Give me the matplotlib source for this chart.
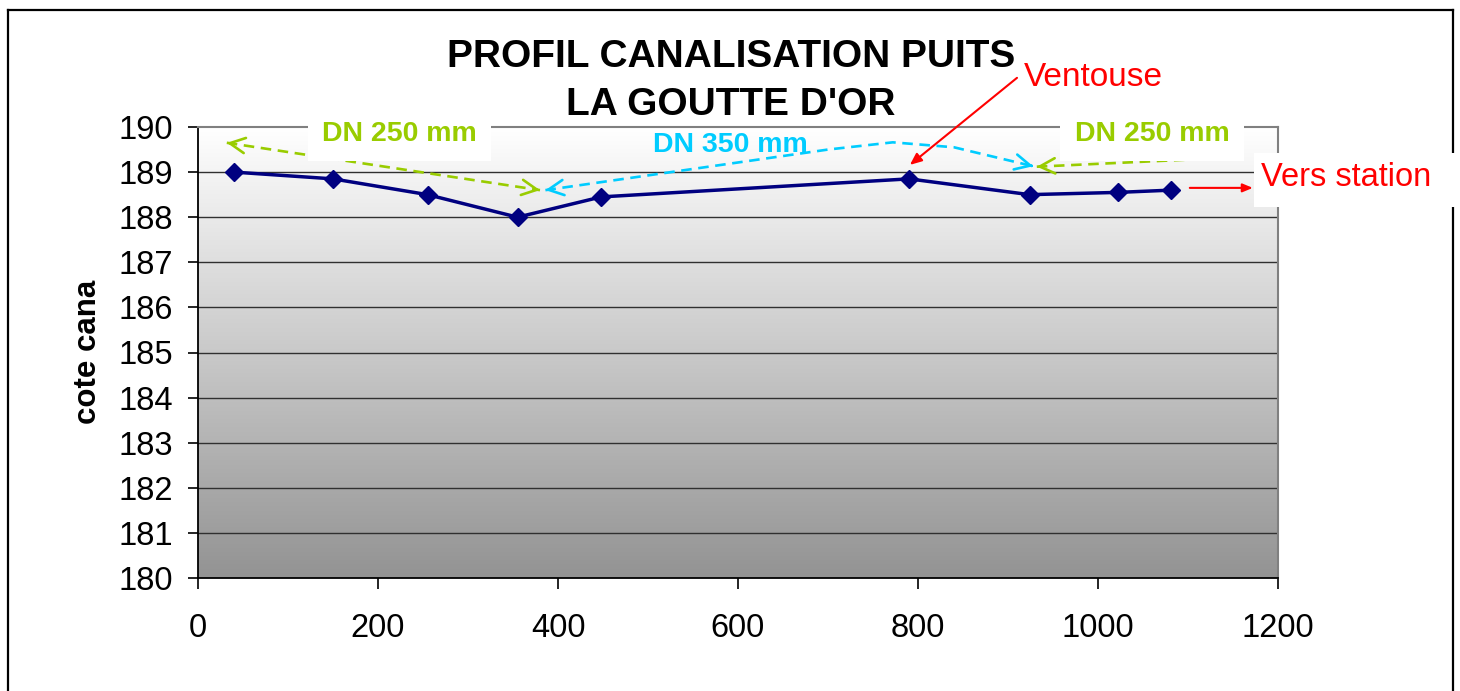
import numpy as np
import matplotlib
matplotlib.use('Agg')
import matplotlib.pyplot as plt
from matplotlib.colors import LinearSegmentedColormap
from matplotlib.patches import Rectangle
from matplotlib.lines import Line2D

plt.rcParams['font.family'] = ['Liberation Sans', 'DejaVu Sans']

# Données du profil
distance = [40, 150, 255, 355, 448, 790, 924, 1022, 1081]
cote = [189.0, 188.85, 188.5, 188.0, 188.45, 188.85, 188.5, 188.55, 188.6]
x_ticks = [0, 200, 400, 600, 800, 1000, 1200]
y_ticks = [180, 181, 182, 183, 184, 185, 186, 187, 188, 189, 190]

VERT = '#99CC00'
CYAN = '#00CCFF'
ROUGE = '#FF0000'

W, H = 1460, 691
fig = plt.figure(figsize=(W / 100, H / 100), dpi=100)
ax = fig.add_axes([198 / W, 1 - 578 / H, 1080 / W, 451 / H])

# fond dégradé (blanc en haut, gris en bas)
cmap = LinearSegmentedColormap.from_list('fond', ['#FFFFFF', '#939393'])
grad = np.linspace(0, 1, 256).reshape(-1, 1)
ax.imshow(grad, extent=[0, 1200, 180, 190], origin='upper', cmap=cmap,
          aspect='auto', zorder=0)
ax.set_xlim(0, 1200)
ax.set_ylim(180, 190)

for v in y_ticks[1:-1]:
    ax.axhline(v, color='#303030', lw=1.0, zorder=1)

ax.plot(distance, cote, color='#000080', lw=2.5, marker='D', ms=9, zorder=4)

ax.set_xticks(x_ticks)
ax.set_yticks(y_ticks)
ax.tick_params(axis='both', labelsize=23.5, direction='out', width=1.2)
ax.tick_params(axis='x', length=8, pad=17)
ax.tick_params(axis='y', length=7, pad=11)
for s in ['left', 'bottom']:
    ax.spines[s].set_color('black')
    ax.spines[s].set_linewidth(1.3)
for s in ['top', 'right']:
    ax.spines[s].set_color('#808080')
    ax.spines[s].set_linewidth(1.5)


def tete(x0, y0, x1, y1, couleur):
    # pointe de flèche ouverte en (x1, y1), venant de (x0, y0)
    xb = x1 - (x1 - x0) * 0.02
    yb = y1 - (y1 - y0) * 0.02
    ax.annotate('', xy=(x1, y1), xytext=(xb, yb), annotation_clip=False,
                arrowprops=dict(arrowstyle='->,head_length=1.1,head_width=0.55',
                                color=couleur, lw=1.9, shrinkA=0, shrinkB=0))


tirets = (0, (4, 2.5))

# DN 250 gauche
g1x, g1y = [32, 380], [189.65, 188.6]
ax.plot(g1x, g1y, color=VERT, lw=1.9, ls=tirets, zorder=3)
tete(g1x[1], g1y[1], g1x[0], g1y[0], VERT)
tete(g1x[0], g1y[0], g1x[1], g1y[1], VERT)

# DN 350
cx, cy = [386, 700, 772, 840, 928], [188.6, 189.5, 189.66, 189.55, 189.13]
ax.plot(cx, cy, color=CYAN, lw=1.9, ls=tirets, zorder=3)
tete(cx[1], cy[1], cx[0], cy[0], CYAN)
tete(cx[-2], cy[-2], cx[-1], cy[-1], CYAN)

# DN 250 droite
g2x, g2y = [932, 1136], [189.12, 189.31]
ax.plot(g2x, g2y, color=VERT, lw=1.9, ls=tirets, zorder=3, clip_on=False)
tete(g2x[1], g2y[1], g2x[0], g2y[0], VERT)

ax.text(224, 189.84, 'DN 250 mm', color=VERT, fontsize=20.5, fontweight='bold',
        ha='center', va='center', zorder=6,
        bbox=dict(boxstyle='square,pad=0.5', facecolor='white', edgecolor='none'))
ax.text(1060, 189.84, 'DN 250 mm', color=VERT, fontsize=20.5, fontweight='bold',
        ha='center', va='center', zorder=6,
        bbox=dict(boxstyle='square,pad=0.5', facecolor='white', edgecolor='none'))
ax.text(591, 189.6, 'DN 350 mm', color=CYAN, fontsize=20.5, fontweight='bold',
        ha='center', va='center', zorder=6)

# Ventouse
ax.annotate('', xy=(791, 189.16), xytext=(910, 191.09), annotation_clip=False,
            arrowprops=dict(arrowstyle='-|>,head_length=0.7,head_width=0.3',
                            color=ROUGE, lw=1.5, shrinkA=0, shrinkB=0))
ax.text(995, 191.1, 'Ventouse', color=ROUGE, fontsize=24, ha='center', va='center')

# Vers station
ax.annotate('', xy=(1172, 188.65), xytext=(1102, 188.65), annotation_clip=False,
            arrowprops=dict(arrowstyle='-|>,head_length=0.6,head_width=0.25',
                            color=ROUGE, lw=1.5, shrinkA=0, shrinkB=0))

# cadre extérieur
cadre = dict(color='black', lw=1.6, transform=fig.transFigure, zorder=2)
fig.add_artist(Line2D([8 / W, 8 / W], [-0.05, 1 - 10 / H], **cadre))
fig.add_artist(Line2D([8 / W, 1453 / W], [1 - 10 / H, 1 - 10 / H], **cadre))
fig.add_artist(Line2D([1453 / W, 1453 / W], [-0.05, 1 - 10 / H], **cadre))

fig.add_artist(Rectangle((1254 / W, 1 - 207 / H), 210 / W, 54 / H, transform=fig.transFigure,
                         facecolor='white', edgecolor='none', zorder=3))
fig.text(1346 / W, 1 - 178 / H, 'Vers station', color=ROUGE, fontsize=23.5,
         ha='center', va='center', zorder=4)

fig.text(731 / W, 1 - 81 / H, "PROFIL CANALISATION PUITS\nLA GOUTTE D'OR",
         fontsize=28, fontweight='bold', ha='center', va='center', linespacing=1.4)
fig.text(88 / W, 1 - 352 / H, 'cote cana', fontsize=22.5, fontweight='bold',
         rotation=90, ha='center', va='center')

fig.savefig('out.png', dpi=100, facecolor='white')
